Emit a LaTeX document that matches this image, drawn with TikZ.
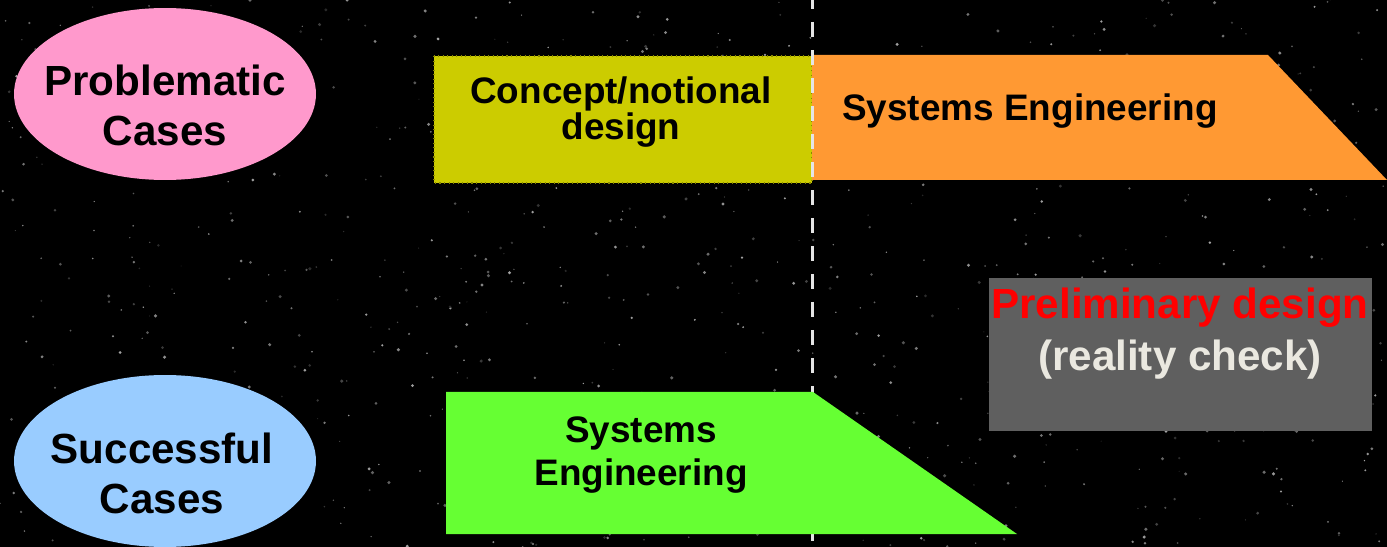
\documentclass[tikz,border=0pt]{standalone}
\usepackage{fontspec}
\setmainfont{Liberation Sans}
\usetikzlibrary{shapes.geometric}
\definecolor{casepink}{HTML}{FF99CC}
\definecolor{caseblue}{HTML}{99CCFF}
\definecolor{conceptyellow}{HTML}{CCCC00}
\definecolor{conceptedge}{HTML}{8A8A00}
\definecolor{seorange}{HTML}{FF9933}
\definecolor{segreen}{HTML}{66FF33}
\definecolor{checkgray}{HTML}{5F5F5F}
\definecolor{checktext}{HTML}{EAE8E0}
\tikzset{
casebubble/.style={
	ellipse, minimum width=6.04cm, minimum height=3.44cm, inner sep=0pt},
phaselabel/.style={
	inner sep=0pt, align=center, font=\bfseries\fontsize{21}{25}\selectfont},
caselabel/.style={
	inner sep=0pt, align=center, font=\bfseries\fontsize{24}{28.5}\selectfont},
divider/.style={
	draw=white!90!black, line width=1.7pt, dash pattern=on 0.3cm off 0.26cm}
}

\begin{document}
\begin{tikzpicture}[x=0.02cm, y=-0.02cm]
	\fill[black] (0,0) rectangle (1387,547);
	\useasboundingbox (0,0) rectangle (1387,547);
	% faint stars
	\pgfmathsetseed{4711}
	\foreach \k in {1,...,900}{
		\pgfmathsetmacro{\sx}{1387*rnd}
		\pgfmathsetmacro{\sy}{547*rnd}
		\pgfmathsetmacro{\sr}{0.3+0.7*rnd}
		\pgfmathtruncatemacro{\sg}{15+50*rnd}
		\fill[white!\sg!black] (\sx,\sy) circle[radius=\sr pt];
	}
	% cases
	\node[casebubble, fill=casepink] (problematic) at (165,94) {};
	\node[caselabel] (problematictxt) at (165,105) {Problematic\\Cases};
	\node[casebubble, fill=caseblue] (successful) at (165,461) {};
	\node[caselabel] (successfultxt) at (162,473) {Successful\\Cases};
	% problematic timeline
	\filldraw[fill=conceptyellow, draw=conceptedge, dotted, line width=0.6pt]
		(434,56) rectangle (812,183);
	\node[phaselabel, font=\bfseries\fontsize{21}{18.8}\selectfont] (concept)
		at (621,112) {Concept/notional\\design};
	\fill[seorange] (812,55) -- (1268,55) -- (1387,180) -- (812,180) -- cycle;
	\node[phaselabel, anchor=west] (lateSE) at (842,111.5) {Systems Engineering};
	\coordinate (divtop) at (812,-6);
	\coordinate (divbot) at (812,547);
	\draw[divider] (divtop) -- (divbot);
	% successful timeline
	\fill[segreen] (446,392) -- (813,392) -- (1017,534) -- (446,534) -- cycle;
	\node[phaselabel] (earlySE) at (641,455) {Systems\\Engineering};
	\fill[checkgray] (989,278) rectangle (1372,431);
	\node[caselabel, font=\bfseries\fontsize{24}{29.6}\selectfont] (prelim) at (1180,334)
		{\textcolor{red}{Preliminary design}\\\textcolor{checktext}{(reality check)}};
\end{tikzpicture}
\end{document}
